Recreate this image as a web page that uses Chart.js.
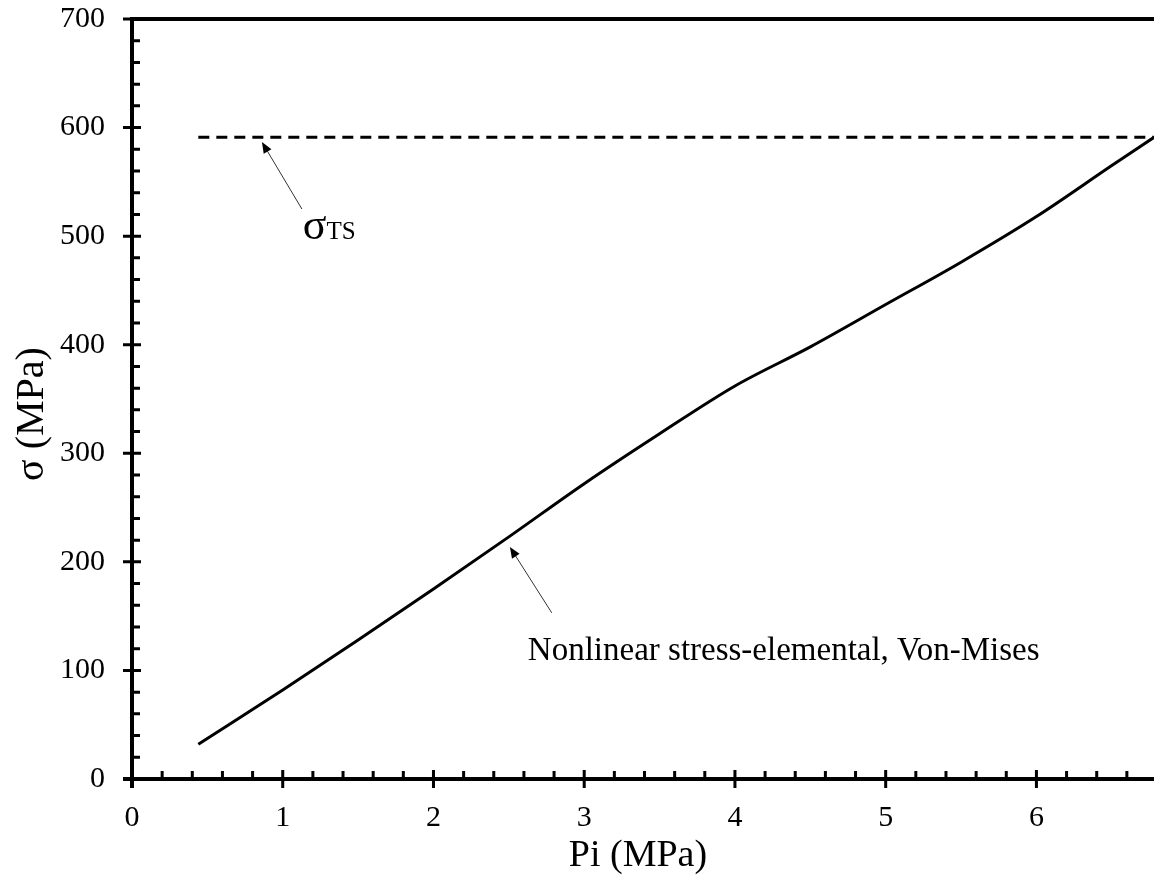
<!DOCTYPE html>
<html>
<head>
<meta charset="utf-8">
<script src="https://cdn.jsdelivr.net/npm/chart.js@4.4.1/dist/chart.umd.min.js"></script>
<style>
  html, body { margin: 0; padding: 0; background: #fff; }
  #wrap { width: 1154px; height: 878px; position: relative; }
</style>
</head>
<body>
<div id="wrap"><canvas id="stressChart"></canvas></div>
<script>
// internal pressure (MPa) vs von Mises stress (MPa)
const pressure = [0.44, 1, 1.5, 2, 2.5, 3, 3.5, 4, 4.5, 5, 5.5, 6, 6.5, 6.78];
const stress = [32, 82, 128, 175, 223, 272, 318, 362, 398, 437, 476, 518, 565, 591];

// tensile strength line
const tsPressure = [0.44, 6.78];
const tsStress = [591, 591];

const xTicks = [0, 1, 2, 3, 4, 5, 6];
const yTicks = [0, 100, 200, 300, 400, 500, 600, 700];

const SERIF = '"Liberation Serif", "Times New Roman", serif';

const toPoints = (xs, ys) => xs.map((x, i) => ({ x: x, y: ys[i] }));

function arrow(ctx, x1, y1, x2, y2) {
    // from tail (x1,y1) to tip (x2,y2)
    const a = Math.atan2(y2 - y1, x2 - x1);
    const len = 11, half = 4.5;
    ctx.save();
    ctx.strokeStyle = '#333';
    ctx.fillStyle = '#000';
    ctx.lineWidth = 1;
    ctx.beginPath();
    ctx.moveTo(x1, y1);
    ctx.lineTo(x2 - Math.cos(a) * len * 0.8, y2 - Math.sin(a) * len * 0.8);
    ctx.stroke();
    ctx.beginPath();
    ctx.moveTo(x2, y2);
    ctx.lineTo(x2 - Math.cos(a) * len - Math.sin(a) * half, y2 - Math.sin(a) * len + Math.cos(a) * half);
    ctx.lineTo(x2 - Math.cos(a) * len + Math.sin(a) * half, y2 - Math.sin(a) * len - Math.cos(a) * half);
    ctx.closePath();
    ctx.fill();
    ctx.restore();
}

const axesPlugin = {
    id: 'axesPlugin',
    afterDraw(chart) {
        const ctx = chart.ctx;
        const xs = chart.scales.x, ys = chart.scales.y;
        const area = chart.chartArea;
        const x0 = xs.getPixelForValue(0), y0 = ys.getPixelForValue(0);
        ctx.save();
        ctx.strokeStyle = '#000';
        ctx.lineCap = 'butt';

        // frame lines
        ctx.lineWidth = 4;
        ctx.beginPath();
        ctx.moveTo(x0 - 9, y0); ctx.lineTo(chart.width, y0);
        ctx.moveTo(x0, area.top - 2); ctx.lineTo(x0, y0 + 9);
        ctx.moveTo(x0 - 2, area.top); ctx.lineTo(chart.width, area.top);
        ctx.stroke();

        // major ticks
        ctx.lineWidth = 3;
        ctx.beginPath();
        xTicks.forEach(v => {
            const p = xs.getPixelForValue(v);
            ctx.moveTo(p, y0 - 9); ctx.lineTo(p, y0 + 9);
        });
        yTicks.forEach(v => {
            const p = ys.getPixelForValue(v);
            ctx.moveTo(x0 - 9, p); ctx.lineTo(x0 + 9, p);
        });
        ctx.stroke();

        // minor ticks (inward)
        ctx.beginPath();
        for (let i = 1; i * 0.2 < xs.max; i++) {
            if (i % 5 === 0) continue;
            const p = xs.getPixelForValue(i * 0.2);
            ctx.moveTo(p, y0); ctx.lineTo(p, y0 - 8);
        }
        for (let i = 1; i * 20 < ys.max; i++) {
            if (i % 5 === 0) continue;
            const p = ys.getPixelForValue(i * 20);
            ctx.moveTo(x0, p); ctx.lineTo(x0 + 8, p);
        }
        ctx.stroke();

        // axis titles
        ctx.fillStyle = '#000';
        ctx.textAlign = 'center';
        ctx.textBaseline = 'alphabetic';
        ctx.font = '38px ' + SERIF;
        ctx.fillText('Pi (MPa)', 638, 866);
        ctx.save();
        ctx.translate(43, 414);
        ctx.rotate(-Math.PI / 2);
        ctx.font = '40px ' + SERIF;
        ctx.fillText('σ (MPa)', 0, 0);
        ctx.restore();

        // annotations
        arrow(ctx, xs.getPixelForValue(1.127), ys.getPixelForValue(525),
                   xs.getPixelForValue(0.862), ys.getPixelForValue(586.7));
        arrow(ctx, xs.getPixelForValue(2.785), ys.getPixelForValue(153),
                   xs.getPixelForValue(2.507), ys.getPixelForValue(213.7));

        ctx.textAlign = 'left';
        const sx = xs.getPixelForValue(1.133), sy = ys.getPixelForValue(497.4);
        ctx.font = '44px ' + SERIF;
        ctx.fillText('σ', sx, sy);
        const sw = ctx.measureText('σ').width;
        ctx.font = '25px ' + SERIF;
        ctx.fillText('TS', sx + sw, sy);

        ctx.font = '33px ' + SERIF;
        ctx.fillText('Nonlinear stress-elemental, Von-Mises',
                     xs.getPixelForValue(2.626), ys.getPixelForValue(109.6));
        ctx.restore();
    }
};

new Chart(document.getElementById('stressChart').getContext('2d'), {
    type: 'line',
    data: {
        datasets: [
            {
                label: 'Nonlinear stress-elemental, Von-Mises',
                data: toPoints(pressure, stress),
                borderColor: '#000',
                borderWidth: 3,
                pointRadius: 0,
                cubicInterpolationMode: 'monotone',
                fill: false
            },
            {
                label: 'σTS',
                data: toPoints(tsPressure, tsStress),
                borderColor: '#000',
                borderWidth: 3,
                borderDash: [11, 7],
                pointRadius: 0,
                fill: false
            }
        ]
    },
    options: {
        responsive: true,
        maintainAspectRatio: false,
        animation: false,
        layout: { padding: { top: 19, right: 0, left: 0, bottom: 0 } },
        plugins: {
            legend: { display: false },
            tooltip: { enabled: false }
        },
        scales: {
            x: {
                type: 'linear',
                min: 0,
                max: 6.78,
                afterBuildTicks: s => { s.ticks = xTicks.map(v => ({ value: v })); },
                afterFit: s => { s.height = 99; s.paddingLeft = 0; s.paddingRight = 0; },
                grid: { display: false, drawTicks: false },
                border: { display: false },
                ticks: {
                    color: '#000',
                    font: { family: SERIF, size: 30 },
                    padding: 21,
                    maxRotation: 0
                }
            },
            y: {
                min: 0,
                max: 700,
                afterBuildTicks: s => { s.ticks = yTicks.map(v => ({ value: v })); },
                afterFit: s => { s.width = 132; s.paddingTop = 0; s.paddingBottom = 0; },
                grid: { display: false, drawTicks: false },
                border: { display: false },
                ticks: {
                    color: '#000',
                    font: { family: SERIF, size: 30 },
                    padding: 27
                }
            }
        }
    },
    plugins: [axesPlugin]
});
</script>
</body>
</html>
